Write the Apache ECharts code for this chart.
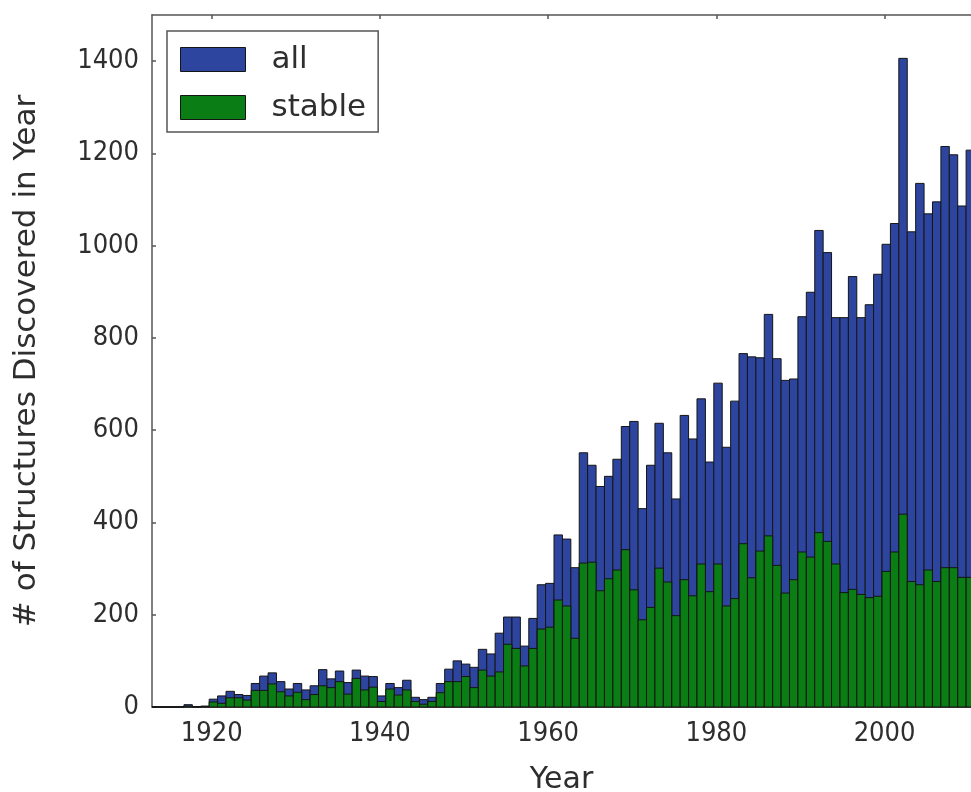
<!DOCTYPE html>
<html>
<head>
<meta charset="utf-8">
<script src="https://cdn.jsdelivr.net/npm/echarts@6/dist/echarts.min.js"></script>
<style>
html,body{margin:0;padding:0;background:#fff;}
#c{width:971px;height:792px;}
</style>
</head>
<body>
<div id="c"></div>
<script>
// ---- data ----
const years = [];
for (let y = 1913; y <= 2010; y++) years.push(y);
const allCounts = [
  0, 0, 0, 0, 5, 1, 2,                       // 1913-1919
  17, 24, 34, 27, 25, 51, 67, 74, 55, 39,    // 1920-1929
  51, 37, 46, 81, 61, 78, 53, 80, 67, 66,    // 1930-1939
  24, 51, 42, 58, 21, 16, 21, 51, 82, 100,   // 1940-1949
  93, 86, 125, 115, 160, 195, 195, 132, 192, 265, // 1950-1959
  268, 373, 364, 302, 551, 524, 478, 500, 537, 608, // 1960-1969
  619, 430, 524, 615, 551, 451, 632, 581, 668, 531, // 1970-1979
  702, 563, 663, 766, 759, 757, 851, 755, 708, 711, // 1980-1989
  846, 899, 1033, 985, 844, 844, 933, 844, 872, 938, // 1990-1999
  1003, 1048, 1406, 1030, 1135, 1069, 1095, 1215, 1197, 1086, // 2000-2009
  1207                                        // 2010
];
const stableCounts = [
  0, 0, 0, 0, 2, 0, 1,                       // 1913-1919
  11, 8, 20, 20, 15, 36, 36, 50, 33, 24,     // 1920-1929
  32, 16, 27, 46, 42, 55, 28, 62, 37, 43,    // 1930-1939
  12, 39, 26, 37, 12, 6, 12, 31, 55, 55,     // 1940-1949
  66, 42, 80, 67, 76, 136, 127, 89, 127, 169, // 1950-1959
  173, 232, 219, 149, 312, 314, 252, 278, 297, 341, // 1960-1969
  254, 189, 216, 301, 271, 198, 276, 241, 310, 250, // 1970-1979
  310, 219, 235, 354, 280, 338, 371, 307, 247, 276, // 1980-1989
  336, 325, 378, 359, 310, 248, 255, 244, 237, 240, // 1990-1999
  294, 336, 418, 272, 265, 297, 272, 302, 302, 281, // 2000-2009
  281                                         // 2010
];
const xTicks = [1920, 1940, 1960, 1980, 2000];
const yTicks = [0, 200, 400, 600, 800, 1000, 1200, 1400];
const seriesNames = ['all', 'stable'];

// ---- styles ----
const BLUE = '#2e45a0';
const GREEN = '#0a7d14';
const EDGE = '#151515';
const AXIS = '#555';
const TXT = '#2e2e2e';
const TICKFONT = "'DejaVu Sans Condensed', 'DejaVu Sans', sans-serif";
const X_MIN = 1912.9, X_MAX = 2010.28;
const BIN_START = -0.3, BIN_END = 0.7;
const plain = v => String(Math.round(v));

function makeRender(color) {
  return function (params, api) {
    const yr = api.value(0), v = api.value(1);
    const p0 = api.coord([yr + BIN_START, v]);
    const p1 = api.coord([yr + BIN_END, 0]);
    const cs = params.coordSys;
    const rect = echarts.graphic.clipRectByRect(
      { x: p0[0], y: p0[1], width: p1[0] - p0[0], height: p1[1] - p0[1] },
      { x: cs.x, y: cs.y, width: cs.width + 20, height: cs.height }
    );
    if (!rect) return;
    return {
      type: 'rect',
      shape: rect,
      style: { fill: color, stroke: EDGE, lineWidth: 1 }
    };
  };
}

const chart = echarts.init(document.getElementById('c'), null, { renderer: 'canvas' });
chart.setOption({
  backgroundColor: '#fff',
  animation: false,
  grid: { left: 152, top: 15, width: 819, height: 692, containLabel: false, outerBoundsMode: 'none' },
  legend: {
    left: 167, top: 31, orient: 'vertical',
    padding: [13, 12, 9, 13],
    itemWidth: 65, itemHeight: 24, itemGap: 17,
    borderColor: '#555', borderWidth: 1.5, backgroundColor: '#fff',
    textStyle: { fontFamily: "'DejaVu Sans', sans-serif", fontSize: 31, color: TXT, padding: [0, 0, 0, 21] },
    data: [
      { name: seriesNames[0], icon: 'rect', itemStyle: { color: BLUE, borderColor: EDGE, borderWidth: 1 } },
      { name: seriesNames[1], icon: 'rect', itemStyle: { color: GREEN, borderColor: EDGE, borderWidth: 1 } }
    ]
  },
  xAxis: [{
    type: 'value', min: X_MIN, max: X_MAX, position: 'bottom',
    name: 'Year', nameLocation: 'middle', nameGap: 58,
    nameTextStyle: { fontFamily: "'DejaVu Sans', sans-serif", fontSize: 30, color: TXT },
    axisLine: { show: true, lineStyle: { color: AXIS, width: 1.5 } },
    axisTick: { show: true, inside: true, length: 4, customValues: xTicks, lineStyle: { color: AXIS, width: 1.5 } },
    axisLabel: { show: true, customValues: xTicks, formatter: plain, margin: 13, fontFamily: TICKFONT, fontSize: 27, color: TXT },
    splitLine: { show: false }
  }, {
    type: 'value', min: X_MIN, max: X_MAX, position: 'top',
    axisLine: { show: true, lineStyle: { color: AXIS, width: 1.5 } },
    axisTick: { show: true, inside: true, length: 4, customValues: xTicks, lineStyle: { color: AXIS, width: 1.5 } },
    axisLabel: { show: false },
    splitLine: { show: false }
  }],
  yAxis: [{
    type: 'value', min: 0, max: 1500, position: 'left',
    name: '# of Structures Discovered in Year', nameLocation: 'middle', nameGap: 110,
    nameTextStyle: { fontFamily: "'DejaVu Sans', sans-serif", fontSize: 31, color: TXT },
    axisLine: { show: true, lineStyle: { color: AXIS, width: 1.5 } },
    axisTick: { show: true, inside: true, length: 4, customValues: yTicks, lineStyle: { color: AXIS, width: 1.5 } },
    axisLabel: { show: true, customValues: yTicks, formatter: plain, margin: 13, fontFamily: TICKFONT, fontSize: 27, color: TXT },
    splitLine: { show: false }
  }],
  series: [{
    name: seriesNames[0], type: 'custom', xAxisIndex: 0, yAxisIndex: 0,
    itemStyle: { color: BLUE },
    renderItem: makeRender(BLUE),
    encode: { x: 0, y: 1 },
    data: years.map((y, i) => [y, allCounts[i]])
  }, {
    name: seriesNames[1], type: 'custom', xAxisIndex: 0, yAxisIndex: 0,
    itemStyle: { color: GREEN },
    renderItem: makeRender(GREEN),
    encode: { x: 0, y: 1 },
    data: years.map((y, i) => [y, stableCounts[i]])
  }]
});
</script>
</body>
</html>
